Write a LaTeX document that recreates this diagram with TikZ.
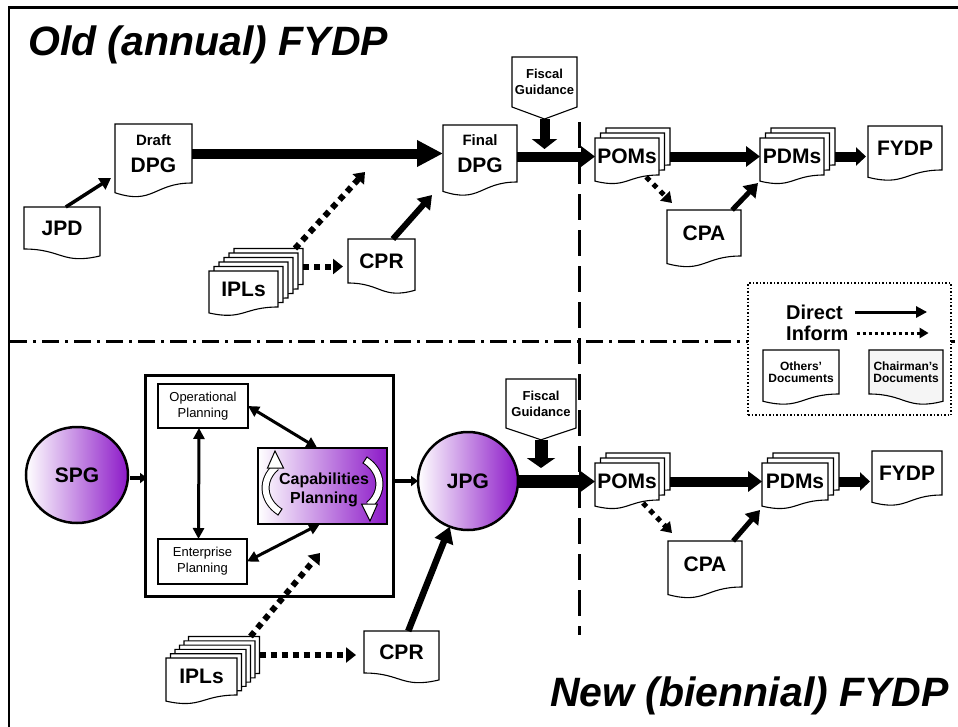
\documentclass[tikz,border=0pt]{standalone}
\usepackage{fontspec}
\setmainfont{Liberation Sans}
\usetikzlibrary{arrows.meta,calc,shapes.geometric}
\pgfdeclarelayer{bg}
\pgfsetlayers{bg,main}
\definecolor{pur}{RGB}{140,25,200}
\newcommand\fsz[1]{\fontsize{#1}{#1}\selectfont}
\tikzset{
  docline/.style={draw=black,line width=1.1pt,fill=white},
  docbox/.style={inner sep=0pt,outer sep=0pt,align=center,font=\bfseries\fsz{21}},
  plainbox/.style={draw=black,line width=2.5pt,fill=white,inner sep=0pt,outer sep=0pt,align=center},
  gradnode/.style={draw=black,line width=2.5pt,left color=white,right color=pur,inner sep=0pt,outer sep=0pt,align=center},
  longarr/.style={line width=10pt,-{Triangle[length=26pt,width=25pt]}},
  bigarr/.style={line width=10pt,-{Triangle[length=14pt,width=20pt]}},
  bigarrb/.style={line width=10pt,-{Triangle[length=10pt,width=18pt]}},
  bigarrc/.style={line width=13pt,-{Triangle[length=16pt,width=22pt]}},
  fgarr/.style={line width=10pt,-{Triangle[length=10pt,width=25pt]}},
  fgarrb/.style={line width=13pt,-{Triangle[length=10pt,width=28pt]}},
  medarr/.style={line width=6pt,-{Triangle[length=13pt,width=17pt]}},
  thinarr/.style={line width=3.5pt,-{Triangle[length=11pt,width=13pt]}},
  tinyarr/.style={line width=4pt,-{Triangle[length=7pt,width=10pt]}},
  dblarr/.style={line width=3pt,{Triangle[length=11pt,width=11pt]}-{Triangle[length=11pt,width=11pt]}},
  infarr/.style={line width=6pt,dash pattern=on 6pt off 5pt,-{Triangle[length=10pt,width=15pt]}},
  infsm/.style={line width=5pt,dash pattern=on 5pt off 5pt,-{Triangle[length=10pt,width=13pt]}},
}
% document outline, longer left side
\newcommand\docout[2][]{\draw[docline,#1] (#2.north west) -- (#2.north east) -- (#2.south east)
  .. controls (#2.south) and ($(#2.south)!-0.38!(#2.north)$) .. ($(#2.south west)!-0.165!(#2.north west)$) -- cycle;}
% document outline, longer right side
\newcommand\docoutm[2][]{\draw[docline,#1] (#2.north west) -- (#2.north east) -- ($(#2.south east)!-0.165!(#2.north east)$)
  .. controls ($(#2.south)!-0.38!(#2.north)$) and (#2.south) .. (#2.south west) -- cycle;}
\newcommand\mkdoc[6][]{\node[docbox,minimum width=#4pt,minimum height=#5pt,#1] (#2) at #3 {#6};
  \begin{pgfonlayer}{bg}\docout{#2}\end{pgfonlayer}}
\newcommand\mkdocm[6][]{\node[docbox,minimum width=#4pt,minimum height=#5pt,#1] (#2) at #3 {#6};
  \begin{pgfonlayer}{bg}\docoutm{#2}\end{pgfonlayer}}
\newcommand\mkstack[9]{%
  \foreach \k in {#6,...,1}{
    \node[docbox,minimum width=#4pt,minimum height=#5pt] (#1-\k) at ($(#2,#3)+(\k*#7,\k*#8)$) {};
    \begin{pgfonlayer}{bg}\docout{#1-\k}\end{pgfonlayer}
  }
  \node[docbox,minimum width=#4pt,minimum height=#5pt] (#1) at (#2,#3) {#9};
  \begin{pgfonlayer}{bg}\docout{#1}\end{pgfonlayer}}
\newcommand\mkfg[4]{\node[docbox,font=\bfseries\fontsize{13}{16}\selectfont,minimum width=#3pt,minimum height=#4pt] (#1) at #2 {Fiscal\\Guidance};
  \coordinate (#1tip) at ($(#1.south)!-0.24!(#1.north)$);
  \begin{pgfonlayer}{bg}\draw[docline] (#1.north west) -- (#1.north east) -- (#1.south east) -- (#1tip) -- (#1.south west) -- cycle;\end{pgfonlayer}}
\newcommand\curlarrow{%
  \draw[line width=1pt,double=white,double distance=6pt] (-46.5,-19) .. controls (-61,-7) and (-61,14) .. (-42.5,26);
  \draw[line width=1pt] (-44.7,29.4) -- (-40.3,22.6);
  \filldraw[fill=white,line width=1pt] (-47.5,-35) -- (-39,-18) -- (-55,-18) -- cycle;}
\begin{document}
\begin{tikzpicture}[x=1pt,y=-1pt,line join=miter]
\useasboundingbox (0,0) rectangle (958,726);
\begin{pgfonlayer}{bg}
  \draw[line width=2.5pt] (9,740) -- (9,7.5) -- (970,7.5);
  \draw[line width=3pt,dash pattern=on 17pt off 6pt on 3pt off 6pt] (10,341) -- (958,341);
  \draw[line width=3pt,dash pattern=on 26pt off 10pt] (579,122) -- (579,635);
  \node[draw,dotted,line width=1.5pt,fill=white,minimum width=203pt,minimum height=132pt,inner sep=0pt] (legend) at (849.5,349) {};
\end{pgfonlayer}
% titles
\node[anchor=base west,inner sep=0pt,font=\bfseries\itshape\fsz{41}] (t1) at (28,55) {Old (annual) FYDP};
\node[anchor=base east,inner sep=0pt,font=\bfseries\itshape\fsz{41}] (t2) at (949,706) {New (biennial) FYDP};
% ---- old FYDP ----
\mkdoc{draft}{(153.5,153.5)}{77}{59}{{\fsz{15}Draft}\\[6pt]DPG}
\mkdocm{jpd}{(62,228)}{76}{42}{JPD}
\mkstack{ipls}{243.5}{289}{69}{36}{5}{5}{-4.5}{IPLs}
\mkdocm{cpr}{(381.5,261)}{67}{44}{CPR}
\mkdoc{final}{(480,153.5)}{74}{57}{{\fsz{15}Final}\\[6pt]DPG}
\mkfg{fg1}{(544.5,82)}{65}{50}
\mkstack{poms}{627}{156.5}{64}{37}{2}{5.5}{-5}{POMs}
\mkstack{pdms}{792}{156.5}{64}{37}{2}{5.5}{-5}{PDMs}
\mkdoc{fydp}{(905,148)}{74}{44}{FYDP}
\mkdoc{cpa}{(704,233)}{74}{46}{CPA}
\coordinate (iptip) at (365,172);
\coordinate (fg1end) at (544.5,149);
\draw[thinarr] ($(jpd.north west)!0.55!(jpd.north east)$) -- ($(draft.south west)+(-4,-5)$);
\draw[longarr] (draft.east) -- (final.west);
\draw[infarr] ($(ipls-5.north east)+(-8,0)$) -- (iptip);
\draw[infarr] (ipls-5.east) -- ($(ipls-5.east -| cpr.west)+(-5,0)$);
\draw[medarr] ($(cpr.north west)!0.67!(cpr.north east)$) -- ($(final.south west)+(-11,13)$);
\draw[bigarr] (final.east |- poms.west) -- (poms.west);
\draw[fgarr] (fg1tip) -- (fg1end);
\draw[infsm] ($(poms.south west)!0.8!(poms.south east)+(0,2)$) -- ($(cpa.north west)+(5,-7)$);
\draw[medarr,line width=5pt] ($(cpa.north west)!0.88!(cpa.north east)$) -- ($(pdms.south west)+(-2,8)$);
\draw[bigarr] (poms-2.east |- poms.east) -- (pdms.west);
\draw[bigarrb] (pdms-2.east |- pdms.east) -- ($(fydp.west |- pdms.east)+(-2,0)$);
% ---- legend ----
\node[anchor=west,inner sep=0pt,font=\bfseries\fsz{20}] (ldir) at (786,312) {Direct};
\node[anchor=west,inner sep=0pt,font=\bfseries\fsz{20}] (linf) at (786,333) {Inform};
\draw[line width=3pt,-{Triangle[length=11pt,width=11pt]}] ($(ldir.east)+(12,0)$) -- ($(ldir.east)+(84,0)$);
\draw[line width=3pt,dash pattern=on 3pt off 3pt,-{Triangle[length=9pt,width=10pt]}] ($(linf.east)+(8,0)$) -- ($(linf.east)+(80,0)$);
\mkdoc[font=\bfseries\fontsize{12}{12.5}\selectfont]{others}{(801,372)}{76}{44}{Others'\\Documents}
\node[docbox,font=\bfseries\fontsize{12}{12.5}\selectfont,minimum width=74pt,minimum height=44pt] (chair) at (906,372) {Chairman's\\Documents};
\begin{pgfonlayer}{bg}\docoutm[fill=black!4]{chair}\end{pgfonlayer}
% ---- new FYDP ----
\node[gradnode,ellipse,minimum width=102pt,minimum height=96pt,font=\bfseries\fsz{21}] (spg) at (77,475) {SPG};
\node[draw=black,line width=3pt,minimum width=248pt,minimum height=221pt,inner sep=0pt,outer sep=0pt] (big) at (269,485.5) {};
\node[plainbox,minimum width=90pt,minimum height=44pt,font=\fontsize{13}{16}\selectfont] (op) at (203,406) {Operational\\Planning};
\node[plainbox,minimum width=89pt,minimum height=45pt,font=\fontsize{13}{16}\selectfont] (ent) at (202.5,561.5) {Enterprise\\Planning};
\node[gradnode,rectangle,minimum width=129pt,minimum height=76pt] (cap) at (322.5,486) {};
\begin{scope}[shift={(cap.center)}]\curlarrow\end{scope}
\begin{scope}[shift={(cap.center)},rotate=180]\curlarrow\end{scope}
\node[inner sep=0pt,align=center,font=\bfseries\fontsize{16}{19}\selectfont] (captext) at (324,490) {Capabilities\\Planning};
\node[gradnode,ellipse,minimum width=100pt,minimum height=98pt,font=\bfseries\fsz{21}] (jpg) at (468,481) {JPG};
\mkfg{fg2}{(541,403.5)}{70}{49}
\mkstack{poms2}{627}{481.5}{64}{37}{2}{5.5}{-5}{POMs}
\mkstack{pdms2}{795}{481.5}{66}{37}{2}{5.5}{-5}{PDMs}
\mkdoc{fydp2}{(907,473)}{70}{44}{FYDP}
\mkdoc{cpa2}{(705,564)}{74}{46}{CPA}
\mkdocm{cpr2}{(401.5,652)}{75}{42}{CPR}
\mkstack{ipls2}{201.5}{676.5}{71}{37}{5}{4.5}{-4.3}{IPLs}
\coordinate (fg2end) at (541,468);
\coordinate (ip2tip) at (320,553);
\draw[tinyarr] ($(spg.east)+(2,3)$) -- ($(big.west |- spg.east)+(2,3)$);
\draw[tinyarr] ($(big.east |- jpg.west)+(2,0)$) -- (jpg.west);
\draw[dblarr] ([xshift=-4pt]op.south) -- ([xshift=-4pt]ent.north);
\draw[dblarr] (op.east) -- ($(cap.north west)!0.46!(cap.north east)$);
\draw[dblarr] (ent.east) -- ($(cap.south west)!0.48!(cap.south east)$);
\draw[fgarrb] (fg2tip) -- (fg2end);
\draw[bigarrc] (jpg.east |- poms2.west) -- (poms2.west);
\draw[bigarr] (poms2-2.east |- poms2.east) -- (pdms2.west);
\draw[bigarrb] (pdms2-2.east |- pdms2.east) -- ($(fydp2.west |- pdms2.east)+(-2,0)$);
\draw[infsm] ($(poms2.south west)!0.75!(poms2.south east)+(0,3)$) -- ($(cpa2.north west)+(4,-8)$);
\draw[medarr,line width=5pt] ($(cpa2.north west)!0.88!(cpa2.north east)$) -- ($(pdms2.south west)+(-2,10)$);
\draw[medarr,line width=6.5pt,-{Triangle[length=16pt,width=19pt]}] ($(cpr2.north west)!0.59!(cpr2.north east)$) -- (jpg);
\draw[infarr] ($(ipls2-5.north east)+(-9,0)$) -- (ip2tip);
\draw[infarr] (ipls2-5.east) -- ($(ipls2-5.east -| cpr2.west)+(-8,0)$);
\end{tikzpicture}
\end{document}
